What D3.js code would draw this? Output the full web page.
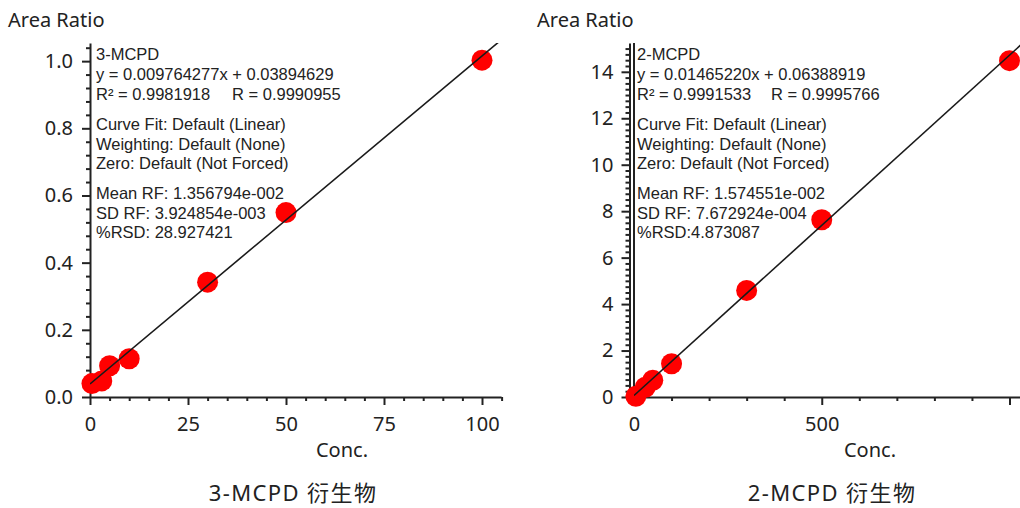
<!DOCTYPE html>
<html><head><meta charset="utf-8">
<script src="https://cdn.jsdelivr.net/npm/d3@7"></script>
<style>
html,body{margin:0;padding:0;background:#fff;}
svg{display:block;font-family:"Noto Sans",sans-serif;}
</style></head>
<body><svg id="c" width="1020" height="508"></svg>
<script>
// ---- data ----
const conc3 = [0.5, 3, 5, 10, 30, 50, 100];
const ratio3 = [0.040, 0.048, 0.093, 0.114, 0.342, 0.549, 1.003];
const fit3 = [0.009764277, 0.03894629]; // slope, intercept
const xTicks3 = [0, 25, 50, 75, 100];
const yTicks3 = [0.0, 0.2, 0.4, 0.6, 0.8, 1.0];
const info3 = [
  ["3-MCPD"],
  ["y = 0.009764277x + 0.03894629"],
  ["R\u00B2 = 0.9981918", "R = 0.9990955"],
  ["Curve Fit: Default (Linear)"],
  ["Weighting: Default (None)"],
  ["Zero: Default (Not Forced)"],
  ["Mean RF: 1.356794e-002"],
  ["SD RF: 3.924854e-003"],
  ["%RSD: 28.927421"]
];
const title3 = "3-MCPD 衍生物";

const conc2 = [5, 30, 50, 100, 300, 500, 1000];
const ratio2 = [0.03, 0.42, 0.72, 1.43, 4.59, 7.63, 14.48];
const fit2 = [0.01465220, 0.06388919];
const xTicks2 = [0, 500, 1000];
const xLabels2 = ["0", "500", ""];
const yTicks2 = [0, 2, 4, 6, 8, 10, 12, 14];
const info2 = [
  ["2-MCPD"],
  ["y = 0.01465220x + 0.06388919"],
  ["R\u00B2 = 0.9991533", "R = 0.9995766"],
  ["Curve Fit: Default (Linear)"],
  ["Weighting: Default (None)"],
  ["Zero: Default (Not Forced)"],
  ["Mean RF: 1.574551e-002"],
  ["SD RF: 7.672924e-004"],
  ["%RSD:4.873087"]
];
const title2 = "2-MCPD 衍生物";

const svg = d3.select("#c");
svg.append("rect").attr("width",1020).attr("height",508).attr("fill","#fff");
const ink = "#222";
const infoBaselines = [60, 80, 100, 130, 150, 169, 199, 219, 238];

function chart(o){
  const g = svg.append("g");
  const x = d3.scaleLinear().domain(o.xDom).range(o.xRange);
  const y = d3.scaleLinear().domain(o.yDom).range([397, 43]);
  const yAxisX = x(0) - o.yOffset;

  const cid = "clip" + o.id;
  svg.append("clipPath").attr("id", cid).append("rect")
    .attr("x", x(0)).attr("y", 43).attr("width", o.xRange[1]-x(0)).attr("height", 397-43);

  // Y axis: minor
  const yMinor = d3.range(0, o.yDom[1], o.yMinorStep).filter(v => !o.yTicks.some(t => Math.abs(t-v) < 1e-6));
  g.append("g").attr("transform", `translate(${yAxisX},0)`)
    .call(d3.axisLeft(y).tickValues(yMinor).tickSize(4).tickFormat("").tickSizeOuter(0))
    .call(s => s.select(".domain").remove())
    .call(s => s.selectAll("line").attr("stroke", ink).attr("stroke-width", 2));
  // Y axis: major
  g.append("g").attr("transform", `translate(${yAxisX},0)`)
    .call(d3.axisLeft(y).tickValues(o.yTicks).tickSize(8).tickPadding(o.yPad).tickSizeOuter(0)
      .tickFormat(o.yFmt))
    .call(s => s.select(".domain").attr("stroke", ink).attr("stroke-width", 2))
    .call(s => s.selectAll("line").attr("stroke", ink).attr("stroke-width", 2))
    .call(s => s.selectAll("text").attr("fill", ink).style("font-size", "20px")
      .style("font-family", "Noto Sans"));
  if (o.doubleLine) {
    g.append("line").attr("x1", x(0)).attr("x2", x(0)).attr("y1", 43).attr("y2", 397)
      .attr("stroke", ink).attr("stroke-width", 2);
  }

  // X axis: minor
  const xMinor = d3.range(0, o.xDom[1] + 1e-9, o.xMinorStep).filter(v => !o.xTicks.includes(v));
  g.append("g").attr("transform", "translate(0,397)")
    .call(d3.axisBottom(x).tickValues(xMinor).tickSize(4).tickFormat("").tickSizeOuter(0))
    .call(s => s.select(".domain").remove())
    .call(s => s.selectAll("line").attr("stroke", ink).attr("stroke-width", 2));
  g.append("g").attr("transform", "translate(0,397)")
    .call(d3.axisBottom(x).tickValues(o.xTicks).tickSize(8).tickPadding(12).tickSizeOuter(0)
      .tickFormat((d, i) => o.xLabels[i]))
    .call(s => s.select(".domain").attr("stroke", ink).attr("stroke-width", 2)
      .attr("d", `M${yAxisX},0.5H${o.xRange[1]}`))
    .call(s => s.selectAll("line").attr("stroke", ink).attr("stroke-width", 2))
    .call(s => s.selectAll("text").attr("fill", ink).style("font-size", "20px")
      .style("font-family", "Noto Sans"));

  // points
  const pts = o.xs.map((c, i) => [c, o.ys[i]]);
  g.append("g").selectAll("circle").data(pts).join("circle")
    .attr("cx", d => x(d[0])).attr("cy", d => y(d[1])).attr("r", 10.5)
    .attr("fill", "#ff0000");

  // regression line
  const x1 = o.xDom[1];
  g.append("line").attr("clip-path", `url(#${cid})`)
    .attr("x1", x(0)).attr("y1", y(o.fit[1]))
    .attr("x2", x(x1)).attr("y2", y(o.fit[0]*x1 + o.fit[1]))
    .attr("stroke", "#1a1a1a").attr("stroke-width", 1.6);

  // info block
  const tb = g.append("g").attr("fill", ink)
    .style("font-family", "'Liberation Sans',Arial,sans-serif").style("font-size", "16.5px");
  o.info.forEach((row, i) => {
    tb.append("text").attr("x", o.textX).attr("y", infoBaselines[i]).text(row[0]);
    if (row[1]) tb.append("text").attr("x", o.textX + o.rGap).attr("y", infoBaselines[i]).text(row[1]);
  });

  // axis titles
  g.append("text").attr("x", o.areaX).attr("y", 27).attr("fill", ink)
    .style("font-size", "20px").text("Area Ratio");
  g.append("text").attr("x", o.concX).attr("y", 457).attr("text-anchor", "middle").attr("fill", ink)
    .style("font-size", "20px").text("Conc.");
  g.append("text").attr("x", o.titleX).attr("y", 501).attr("text-anchor", "middle").attr("fill", ink)
    .style("font-family", "'Noto Sans','Noto Sans CJK JP',sans-serif")
    .style("font-size", "22px").style("letter-spacing", "1.4px").text(o.title);
}

chart({
  id: 3, xs: conc3, ys: ratio3, fit: fit3,
  xDom: [0, 105], xRange: [90, 501.6], yDom: [0, 1.054],
  xTicks: xTicks3, xLabels: xTicks3.map(String), xMinorStep: 5,
  yTicks: yTicks3, yMinorStep: 0.04, yFmt: d3.format(".1f"), yPad: 9, yOffset: 0,
  doubleLine: false, info: info3, textX: 96, rGap: 136,
  areaX: 8, concX: 342, titleX: 293, title: title3
});
chart({
  id: 2, xs: conc2, ys: ratio2, fit: fit2,
  xDom: [0, 1100], xRange: [634, 634 + 1100*0.3755], yDom: [0, 15.24],
  xTicks: xTicks2, xLabels: xLabels2, xMinorStep: 100,
  yTicks: yTicks2, yMinorStep: 0.25, yFmt: d3.format("d"), yPad: 8, yOffset: 4.5,
  doubleLine: true, info: info2, textX: 637, rGap: 134,
  areaX: 537, concX: 870, titleX: 832, title: title2
});
</script></body></html>
